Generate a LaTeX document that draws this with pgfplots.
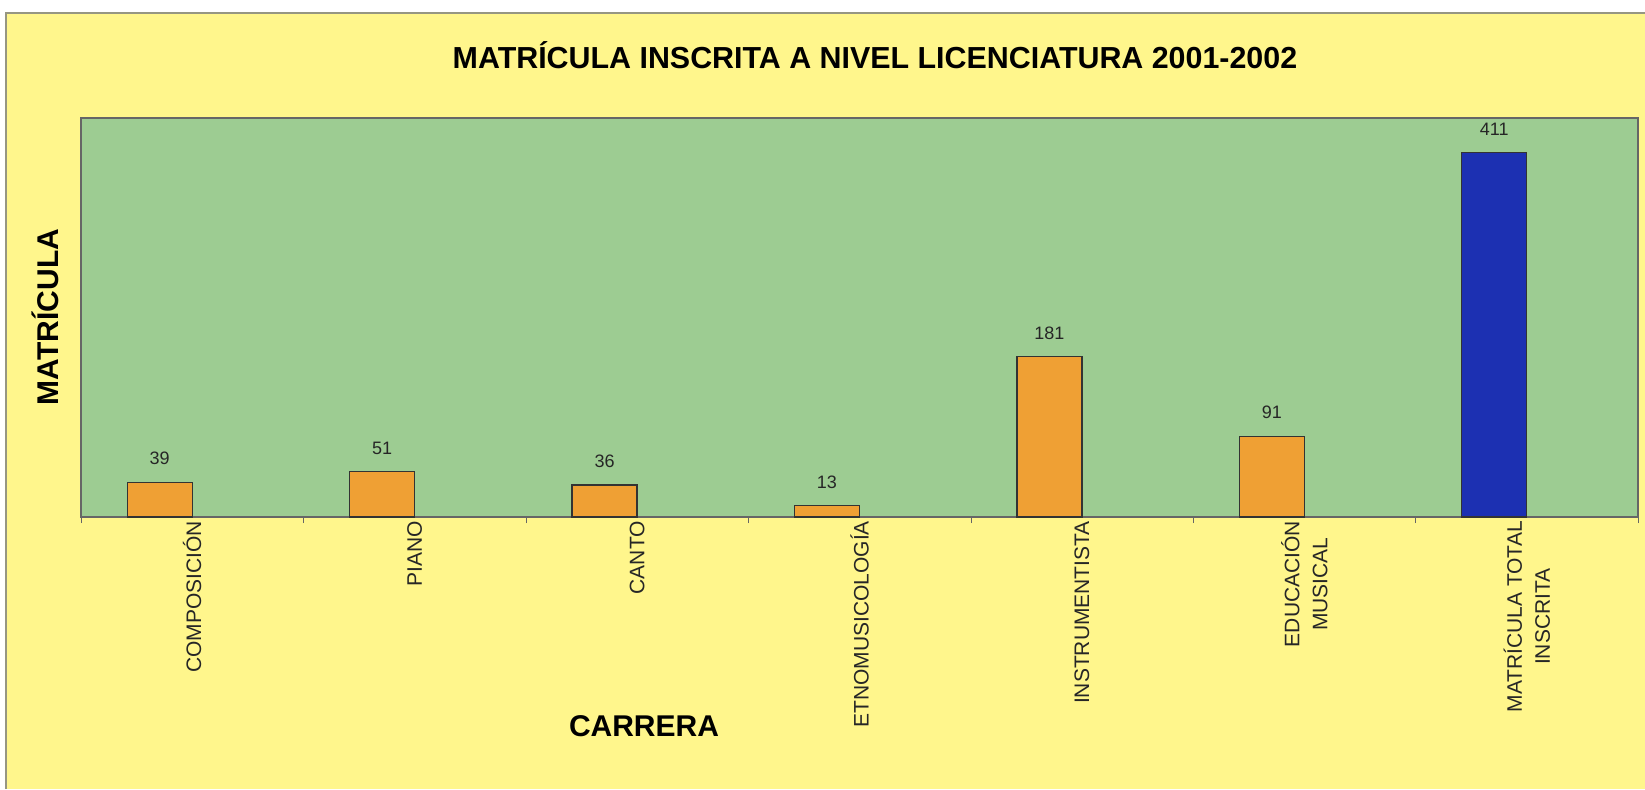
\documentclass[border=0pt]{standalone}
\usepackage{fontspec}
\setmainfont{Liberation Sans}
\usepackage{pgfplots}
\pgfplotsset{compat=1.18}
\definecolor{bgyellow}{RGB}{255,246,140}
\definecolor{plotgreen}{RGB}{157,204,146}
\definecolor{barorange}{RGB}{239,160,52}
\definecolor{barblue}{RGB}{28,48,178}
\definecolor{framegray}{RGB}{150,150,130}
\begin{document}
\begin{tikzpicture}[x=1pt,y=1pt]
\useasboundingbox (0,0) rectangle (822.5,394.5);
\fill[white] (0,0) rectangle (822.5,394.5);
\fill[bgyellow] (3,0) rectangle (822.5,388);
\draw[framegray, line width=0.8pt] (3,0) -- (3,388) -- (822.5,388);
\begin{axis}[
  at={(40.5pt,136pt)}, anchor=south west,
  scale only axis, width=778.5pt, height=199.5pt,
  axis background/.style={fill=plotgreen},
  axis line style={draw=black!60, line width=0.6pt},
  xmin=-0.5, xmax=6.5, ymin=0, ymax=450,
  ytick=\empty,
  xtick={0,...,6},
  xticklabels={COMPOSICIÓN,PIANO,CANTO,ETNOMUSICOLOGÍA,INSTRUMENTISTA,{EDUCACIÓN\\MUSICAL},{MATRÍCULA TOTAL\\INSCRITA}},
  major tick length=0pt,
  minor xtick={-0.5,0.5,...,6.5},
  minor tick length=3pt,
  xtick align=outside,
  xtick pos=bottom,
  tick style={black!60},
  x tick label style={rotate=90, anchor=east, align=center, font=\fontsize{10.5}{14}\selectfont, xshift=1.5pt, text=black!85},
  /pgf/number format/assume math mode=true,
  ybar, bar width=32.5pt, bar shift=-16.25pt,
  nodes near coords,
  every node near coord/.append style={font=\fontsize{9}{10}\selectfont, text=black!85, yshift=5pt},
  clip=false,
]
\addplot[fill=barorange, draw=black!80, line width=0.6pt] coordinates {(0,39) (1,51) (2,36) (3,13) (4,181) (5,91)};
\addplot[fill=barblue, draw=black!80, line width=0.6pt] coordinates {(6,411)};
\end{axis}
\node[font=\bfseries\fontsize{15.2}{18}\selectfont] at (437.5,367) {MATRÍCULA INSCRITA A NIVEL LICENCIATURA 2001-2002};
\node[font=\bfseries\fontsize{15}{18}\selectfont] at (322,31.5) {CARRERA};
\node[font=\bfseries\fontsize{15}{18}\selectfont, rotate=90] at (22.5,236) {MATRÍCULA};
\end{tikzpicture}
\end{document}
